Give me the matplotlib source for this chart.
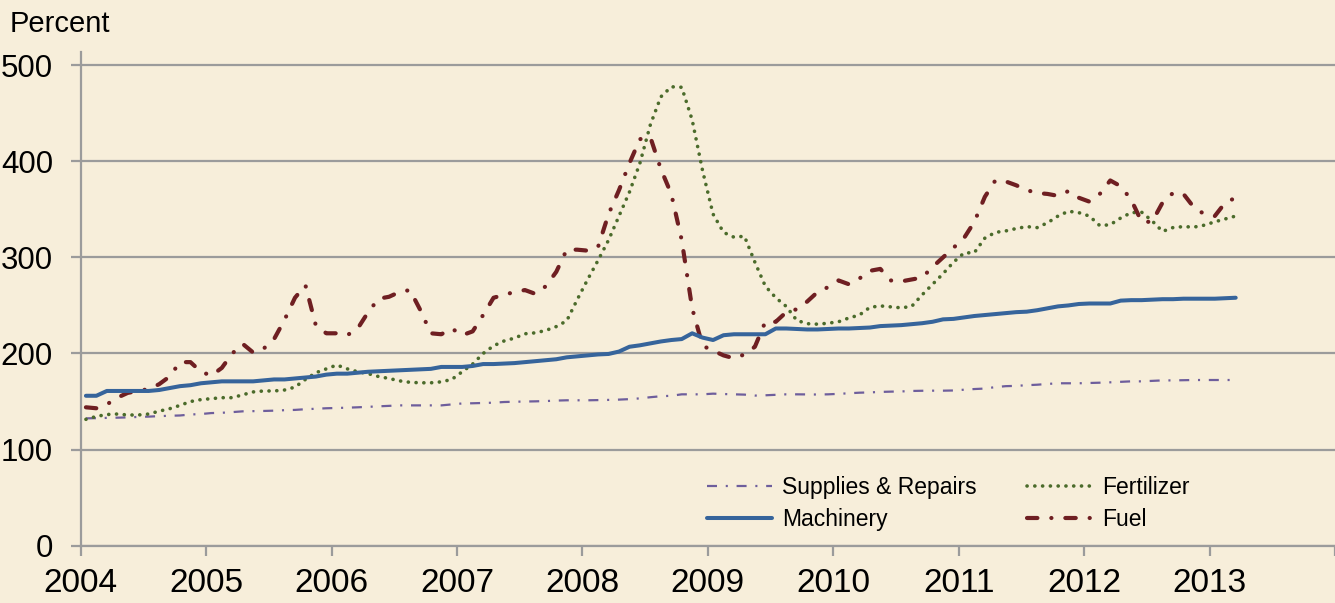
import numpy as np
import matplotlib
matplotlib.use("Agg")
import matplotlib.pyplot as plt

plt.rcParams['font.family'] = ['Liberation Sans', 'DejaVu Sans']
plt.rcParams['lines.scale_dashes'] = False

# Monthly index values, Jan 2004 - Mar 2013 (percent)
start_year = 2004
supplies = [132.5, 132.7, 133, 133.2, 133.5, 134, 134.3, 134.8, 135.2, 135.5,
            136.5, 137, 138, 138.3, 139, 139.8, 140, 140.2, 140.5, 141,
            141.3, 142, 142.5, 143, 143.3, 143.6, 144, 144.5, 145, 145.5,
            146, 146, 146, 146, 146, 147, 148, 148.2, 148.5, 148.8,
            149.5, 149.8, 150, 150.2, 150.5, 151, 151.3, 151.3, 151.3, 151.5,
            151.7, 152, 152.5, 153.3, 154.5, 155.5, 156, 157.5, 157.5, 157.5,
            158.2, 157.8, 157.5, 157.2, 156.2, 156.5, 157, 157.5, 157.5, 157.4,
            157.3, 157.5, 158, 158.6, 159.2, 159.5, 160, 160.3, 160.5, 161,
            161.2, 161.3, 161.3, 161.5, 162.3, 163, 163.5, 165, 166, 166.3,
            167, 167.5, 168.3, 169, 169, 169, 169.3, 169.6, 170, 170.5,
            171, 171, 171.5, 172, 172, 172.2, 172.4, 172.4, 172.4, 172.4,
            172.4]
machinery = [156, 156, 161, 161, 161, 161, 161, 162, 164, 166,
             167, 169, 170, 171, 171, 171, 171, 172, 173, 173,
             174, 175, 176, 178, 179, 179, 180, 181, 181.5, 182,
             182.5, 183, 183.5, 184, 186, 186, 186, 187, 189, 189,
             189.5, 190, 191, 192, 193, 194, 196, 197, 198, 199,
             199.5, 202, 207, 208.5, 210.5, 212.5, 214, 215, 221, 216.5,
             214, 219, 220, 220, 220, 220, 226, 226, 225.5, 225,
             225, 225.5, 226, 226, 226.5, 227, 228.5, 229, 229.5, 230.5,
             231.5, 233, 235.5, 236, 237.5, 239, 240, 241, 242, 243,
             243.5, 245, 247, 249, 250, 251.5, 252, 252, 252, 255,
             255.5, 255.5, 256, 256.5, 256.5, 257, 257, 257, 257, 257.5,
             258]
fertilizer = [131.5, 134.5, 136.5, 137, 136, 136, 137, 140, 142.5, 146,
              150, 152, 153, 154, 154, 157, 160, 161, 161, 162,
              165, 173, 180, 184, 188, 184, 181, 179, 176, 174,
              171.5, 170, 169.5, 169.5, 170.5, 173, 181, 189, 200, 208,
              213, 216, 220.5, 221.5, 224, 228, 234, 256, 277, 297,
              318, 343, 368, 398, 438, 467, 477.5, 477, 443, 390,
              345, 326, 321, 322, 295, 270, 258, 249, 234.5, 231,
              230.5, 231.5, 233, 237, 240, 248, 249.5, 248.5, 247.5, 249,
              261, 272, 283, 295, 304.5, 305, 320, 326, 327.5, 330,
              332, 331, 336, 343, 348, 346.5, 343, 333, 334, 341,
              346.5, 347, 338, 327, 331, 332, 331.5, 333.5, 337, 340,
              343]
fuel = [144, 143, 147, 154, 159, 161, 163, 168, 176, 191,
        191, 181, 177, 185, 200, 210, 201, 205, 215, 235,
        258, 271, 229, 221, 221, 219, 226, 243, 257, 259,
        264, 266, 245, 221, 220, 226, 219, 223, 240, 258,
        261, 264, 266, 262, 270, 285, 308, 308, 307, 311,
        345, 370, 398, 423, 425, 392, 366, 318, 247, 208,
        203, 198, 195, 199, 207, 233, 233, 243, 246, 254,
        264, 269, 276, 272, 278, 286, 288, 276, 275, 277,
        279, 290, 300, 310, 320, 337, 363, 380, 379, 375,
        370, 367, 366, 364, 369, 362, 358, 366, 380, 374,
        360, 337, 337, 357, 367, 366, 352, 345, 343, 357,
        362]

year_ticks = list(range(2004, 2015))
year_labels = [str(y) for y in range(2004, 2014)] + [""]
y_ticks = [0, 100, 200, 300, 400, 500]

BG = "#F7EEDA"
GRID = "#9B9B9B"

n = len(fuel)
months = np.arange(n)
x = start_year + (months + 0.5) / 12.0

W, H = 1335, 603
fig = plt.figure(figsize=(W / 100, H / 100), dpi=100, facecolor=BG)
ax = fig.add_axes([80.7 / W, 57.3 / H, (W - 80.7) / W, 494 / H])
ax.set_facecolor(BG)

ax.plot(x, supplies, color="#6E5E9C", lw=1.6, dashes=(7.2, 6.3, 1.5, 6.3),
        dash_capstyle="butt", label="Supplies & Repairs", zorder=3)
ax.plot(x, machinery, color="#36649B", lw=2.9, solid_capstyle="round",
        label="Machinery", zorder=4)
ax.plot(x, fertilizer, color="#4B6B2B", lw=2.6, dashes=(0.1, 5.5),
        dash_capstyle="round", label="Fertilizer", zorder=3)
ax.plot(x, fuel, color="#6F1F22", lw=3.0, dashes=(7.5, 10, 0.1, 10),
        dash_capstyle="round", label="Fuel", zorder=3)

ax.set_xlim(2004, 2014)
ax.set_ylim(0, 514)
ax.set_xticks(year_ticks)
ax.set_xticklabels(year_labels)
ax.set_yticks(y_ticks)
ax.set_yticklabels([str(v) for v in y_ticks])

ax.grid(axis="y", color=GRID, lw=1.6, zorder=1)
ax.set_axisbelow(True)
for s in ("top", "right"):
    ax.spines[s].set_visible(False)
for s in ("left", "bottom"):
    ax.spines[s].set_color(GRID)
    ax.spines[s].set_linewidth(1.6)

ax.tick_params(axis="both", which="major", direction="out", length=7.5,
               width=1.6, color=GRID, labelcolor="black")
ax.tick_params(axis="x", labelsize=24, pad=8.5)
ax.tick_params(axis="y", labelsize=22.5, pad=12.5)

fig.text(10 / W, 1 - 31.7 / H, "Percent", fontsize=21, va="baseline",
         ha="left", color="black")

leg = ax.legend(loc="upper left", bbox_to_anchor=(706.7 / W, 1 - 476 / H),
                bbox_transform=fig.transFigure, ncol=2, frameon=False,
                fontsize=16.5, handlelength=2.84, handletextpad=0.44,
                columnspacing=2.2, labelspacing=0.38, borderpad=0,
                borderaxespad=0)

fig.savefig("out.png", dpi=100, facecolor=BG)
